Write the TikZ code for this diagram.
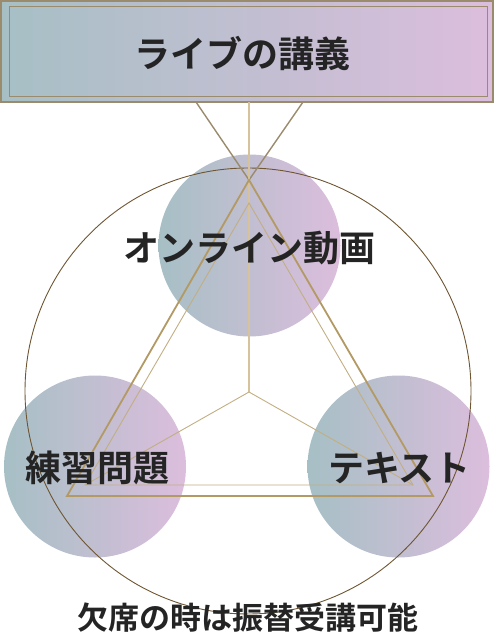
\documentclass[tikz,border=0pt]{standalone}
\usepackage{fontspec}
\setmainfont{Noto Sans CJK JP}[BoldFont={Noto Sans CJK JP Bold}]
\usetikzlibrary{positioning}
\definecolor{bluegray}{HTML}{A6BFC5}
\definecolor{lilac}{HTML}{DCBEDD}
\definecolor{frame}{HTML}{9A8B6C}
\definecolor{gold}{HTML}{B39A64}
\definecolor{lightgold}{HTML}{D6C39C}
\definecolor{ringbrown}{HTML}{6E5632}
\definecolor{ink}{HTML}{242424}

\begin{document}
\begin{tikzpicture}[x=1pt, y=-1pt,
    bubble/.style = {circle, minimum size=182pt, inner sep=0pt,
                     left color=bluegray, middle color=bluegray!62!lilac, right color=lilac},
   caption/.style = {text=ink, font=\fontsize{36}{40}\selectfont\bfseries},
      note/.style = {text=ink, font=\fontsize{31}{34}\selectfont\bfseries},
    topbar/.style = {draw=frame, line width=2pt, left color=bluegray,
                     middle color=bluegray!62!lilac, right color=lilac}
                    ]
\useasboundingbox (0,0) rectangle (494,644);
% top box
\path[topbar] (1,1) rectangle (493,102);
\draw[frame, line width=0.8pt] (9,6) rectangle (487,96);
% bubbles
\node (video) [bubble] at (249.5,245.5) {};
\node (drill) [bubble] at (95,466.5) {};
\node (text)  [bubble] at (398.5,466.5) {};
% geometry
\coordinate (apex) at (249,180);
\coordinate (left) at (67,496);
\coordinate (right) at (433,496);
\coordinate (iapex) at (249,203);
\coordinate (ileft) at (85,485);
\coordinate (iright) at (413,485);
\coordinate (mid) at (249,392);
\coordinate (barl) at (196,102);
\coordinate (barm) at (249,102);
\coordinate (barr) at (303,102);
\draw[ringbrown, line width=0.9pt] (248,391) circle (223);
\draw[frame, line width=1.4pt] (barl) -- (apex) (barr) -- (apex);
\draw[lightgold, line width=1.4pt] (barm) -- (mid);
\draw[gold, line width=1.8pt, line join=miter] (apex) -- (right) -- (left) -- cycle;
\draw[gold!80, line width=0.9pt] (iapex) -- (iright) -- (ileft) -- cycle;
\draw[gold!80, line width=0.9pt] (mid) -- (ileft) (mid) -- (iright);
% texts
\node (lecture) [caption] at (242.5,53) {ライブの講義};
\node (videot)  [caption] at (249.5,248) {オンライン動画};
\node (drillt)  [caption] at (97,468) {練習問題};
\node (textt)   [caption] at (399.5,468) {テキスト};
\node (absent)  [note] at (247.5,618) {欠席の時は振替受講可能};
\end{tikzpicture}
\end{document}
